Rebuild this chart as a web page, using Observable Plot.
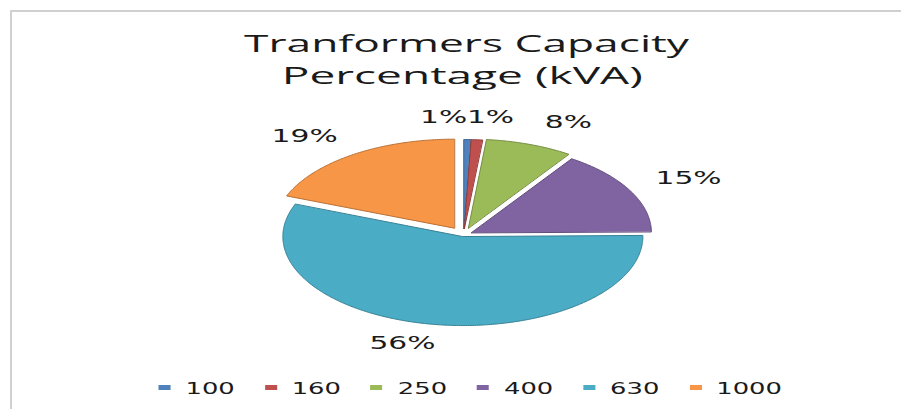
<!DOCTYPE html>
<html>
<head>
<meta charset="utf-8">
<script src="https://cdn.jsdelivr.net/npm/d3@7"></script>
<script src="https://cdn.jsdelivr.net/npm/@observablehq/plot@0.6"></script>
<style>
  html, body { margin: 0; padding: 0; background: #fff; width: 901px; height: 409px; overflow: hidden; position: relative; }
  #frame { position: absolute; left: 10px; top: 10px; width: 900px; height: 410px; border-left: 2px solid #d0d0d0; border-top: 2px solid #d0d0d0; }
  .tline { position: absolute; left: 0; text-align: center; font-family: "Open Sans", sans-serif; font-size: 23px; line-height: 32px; color: #1a1a1a; white-space: nowrap; }
  .tline span { display: inline-block; transform-origin: 50% 50%; }
  #chart { position: absolute; left: 0; top: 100px; }
  #legendWrap { position: absolute; left: 0; width: 940px; top: 380px; display: flex; justify-content: center; }
  #legend { display: flex; align-items: center; font-family: "DejaVu Sans", sans-serif; font-size: 15px; line-height: 18px; color: #1a1a1a; transform: scaleX(1.72); transform-origin: 50% 50%; white-space: nowrap; }
  .item { display: flex; align-items: center; margin-right: 17.4px; }
  .item:last-child { margin-right: 0; }
  .sw { display: inline-block; width: 7px; height: 5px; margin-right: 8.7px; position: relative; top: -1.5px; }
</style>
</head>
<body>
<div id="frame"></div>
<div class="tline" id="t1" style="top:27px;width:934px"><span></span></div>
<div class="tline" id="t2" style="top:59px;width:925px"><span></span></div>
<div id="chart"></div>
<div id="legendWrap"><div id="legend"></div></div>
<script>
// ---- data ----
const titleLines = ["Tranformers Capacity", "Percentage (kVA)"];
const categories = ["100", "160", "250", "400", "630", "1000"];
const values = [0.6, 1.0, 7.8, 15.4, 56.1, 19.1];
const colors = ["#4F81BD", "#C0504D", "#9BBB59", "#8064A2", "#4BACC6", "#F79646"];

// ---- layout / style ----
const cx = 463, cy = 134.3, rx = 180, ry = 89;   // pie centre & radii inside the svg (px)
const explodeBy = [0.07, 0.07, 0.08, 0.05, 0.02, 0.09]; // explosion per slice (fraction of radius)
const labelK = 1.3;                                      // label distance factor
const labelNudge = [[-24.6, 4.6], [10, 4.3], [20.8, 3.3], [11.4, 0.9], [-18.7, -6.9], [-17.6, 3.7]]; // px
const textStretch = 1.75;
const titleWidths = [445, 361];

// ---- pie geometry from values ----
const total = d3.sum(values);
const arcs = d3.pie().sort(null).startAngle(0).endAngle(2 * Math.PI)(values);
const slicePts = [];
const labels = [];
arcs.forEach((a, i) => {
  const key = categories[i];
  const e = explodeBy[i];
  const mid = (a.startAngle + a.endAngle) / 2;
  const ox = e * Math.sin(mid), oy = e * Math.cos(mid);
  slicePts.push({key, x: ox, y: oy});
  const n = Math.max(2, Math.ceil((a.endAngle - a.startAngle) / 0.01));
  for (let j = 0; j <= n; j++) {
    const t = a.startAngle + (a.endAngle - a.startAngle) * j / n;
    slicePts.push({key, x: ox + Math.sin(t), y: oy + Math.cos(t)});
  }
  labels.push({
    key,
    text: Math.round(values[i] / total * 100) + "%",
    x: (labelK + e) * Math.sin(mid) + labelNudge[i][0] / rx,
    y: (labelK + e) * Math.cos(mid) - labelNudge[i][1] / ry
  });
});

const chart = Plot.plot({
  width: 901,
  height: 270,
  margin: 0,
  style: {background: "transparent", overflow: "visible"},
  x: {domain: [-1, 1], range: [cx - rx, cx + rx], axis: null},
  y: {domain: [-1, 1], range: [cy + ry, cy - ry], axis: null},
  color: {domain: categories, range: colors},
  marks: [
    ...categories.map((c, i) => Plot.line(slicePts.filter(d => d.key === c), {
      x: "x", y: "y", fill: "key",
      stroke: d3.color(colors[i]).darker(0.8).formatHex(),
      strokeWidth: 1, curve: "linear-closed"
    })),
    Plot.text(labels, {
      x: "x", y: "y", text: "text",
      fontSize: 17, fontFamily: "DejaVu Sans", fill: "#1a1a1a",
      textAnchor: "middle", lineAnchor: "middle"
    })
  ]
});
document.getElementById("chart").appendChild(chart);

// stretch label text horizontally like the reference
chart.querySelectorAll('g[aria-label="text"] text').forEach(t => {
  const tr = t.getAttribute("transform") || "";
  const x = +t.getAttribute("x") || 0, y = +t.getAttribute("y") || 0;
  t.setAttribute("transform", `${tr} translate(${x},${y}) scale(${textStretch},1) translate(${-x},${-y})`);
});

// title, each line stretched to the reference width
["#t1 span", "#t2 span"].forEach((sel, i) => {
  const s = document.querySelector(sel);
  s.textContent = titleLines[i];
  const k = titleWidths[i] / s.getBoundingClientRect().width;
  s.style.transform = `scaleX(${k})`;
});

// legend from the plot's colour scale
const cs = chart.scale ? chart.scale("color") : null;
const leg = d3.select("#legend");
categories.forEach((c, i) => {
  const it = leg.append("div").attr("class", "item");
  it.append("span").attr("class", "sw").style("background", cs && cs.apply ? cs.apply(c) : colors[i]);
  it.append("span").text(c);
});
</script>
</body>
</html>
